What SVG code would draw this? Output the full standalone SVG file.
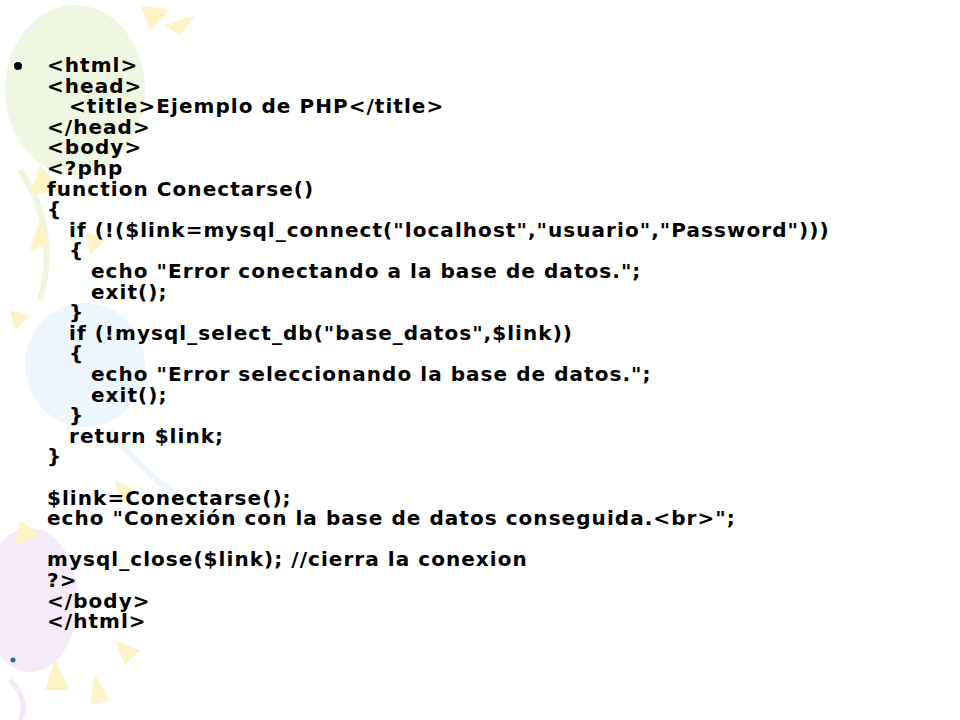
<svg xmlns="http://www.w3.org/2000/svg" width="960" height="720" viewBox="0 0 960 720">
<style>
text{font-family:"DejaVu Sans",Verdana,sans-serif;font-weight:bold;font-size:20px;letter-spacing:1.05px;fill:#000}
.tri{fill:#fdf3c4}
</style>
<rect width="960" height="720" fill="#fff"/>
<g id="decor">
<ellipse cx="75" cy="90" rx="70" ry="85" fill="#eff7e2"/>
<path d="M20 170 Q60 230 40 300" stroke="#ecf6dc" stroke-width="6" fill="none"/>
<ellipse cx="85" cy="365" rx="60" ry="62" fill="#ecf6fc"/>
<path d="M110 430 Q180 520 250 520" stroke="#eaf5fc" stroke-width="6" fill="none"/>
<ellipse cx="30" cy="600" rx="48" ry="72" fill="#f5eaf9"/>
<path d="M10 680 Q30 700 20 720" stroke="#f3e7f8" stroke-width="5" fill="none"/>
<polygon class="tri" points="140,5 170,10 150,30"/>
<polygon class="tri" points="165,25 195,15 180,35"/>
<polygon class="tri" points="40,165 60,190 30,195"/>
<polygon class="tri" points="85,230 105,240 90,255"/>
<polygon class="tri" points="40,220 50,245 30,250"/>
<polygon class="tri" points="10,310 30,315 15,330"/>
<polygon class="tri" points="20,520 40,535 15,545"/>
<polygon class="tri" points="115,480 135,490 120,505"/>
<polygon class="tri" points="115,640 140,650 125,665"/>
<polygon class="tri" points="55,660 70,690 45,690"/>
<polygon class="tri" points="95,675 110,700 90,705"/>
</g>
<g id="bullets">
<circle cx="18" cy="66" r="4" fill="#000"/>
<circle cx="13" cy="660" r="2.5" fill="#1f6e8c"/>
</g>
<g id="code">
<text x="47" y="72">&lt;html&gt;</text>
<text x="47" y="92.6">&lt;head&gt;</text>
<text x="69" y="113.2">&lt;title&gt;Ejemplo de PHP&lt;/title&gt;</text>
<text x="47" y="133.8">&lt;/head&gt;</text>
<text x="47" y="154.4">&lt;body&gt;</text>
<text x="47" y="175">&lt;?php</text>
<text x="47" y="195.6">function Conectarse()</text>
<text x="47" y="216.2">{</text>
<text x="69" y="236.8">if (!($link=mysql_connect("localhost","usuario","Password")))</text>
<text x="69" y="257.4">{</text>
<text x="91" y="278">echo "Error conectando a la base de datos.";</text>
<text x="91" y="298.6">exit();</text>
<text x="69" y="319.2">}</text>
<text x="69" y="339.8">if (!mysql_select_db("base_datos",$link))</text>
<text x="69" y="360.4">{</text>
<text x="91" y="381">echo "Error seleccionando la base de datos.";</text>
<text x="91" y="401.6">exit();</text>
<text x="69" y="422.2">}</text>
<text x="69" y="442.8">return $link;</text>
<text x="47" y="463.4">}</text>
<text x="47" y="504.6">$link=Conectarse();</text>
<text x="47" y="525.2">echo "Conexión con la base de datos conseguida.&lt;br&gt;";</text>
<text x="47" y="566.4">mysql_close($link); //cierra la conexion</text>
<text x="47" y="587">?&gt;</text>
<text x="47" y="607.6">&lt;/body&gt;</text>
<text x="47" y="628.2">&lt;/html&gt;</text>
</g>
</svg>
